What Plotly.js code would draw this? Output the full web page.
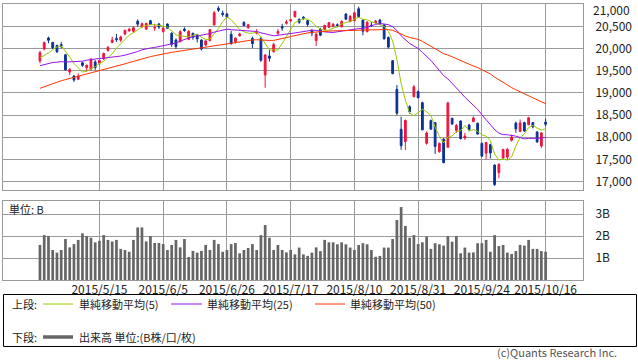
<!DOCTYPE html>
<html><head><meta charset="utf-8">
<script src="https://cdn.plot.ly/plotly-3.0.1.min.js"></script>
<style>html,body{margin:0;padding:0;background:#fff}#chart{width:638px;height:362px}</style>
</head><body><div id="chart"></div>
<script>
const dates = ["2015/4/21","2015/4/22","2015/4/23","2015/4/24","2015/4/27","2015/4/28","2015/4/30",
"2015/5/1","2015/5/7","2015/5/8","2015/5/11","2015/5/12","2015/5/13","2015/5/14","2015/5/15","2015/5/18","2015/5/19","2015/5/20","2015/5/21","2015/5/22","2015/5/25","2015/5/26","2015/5/27","2015/5/28","2015/5/29",
"2015/6/1","2015/6/2","2015/6/3","2015/6/4","2015/6/5","2015/6/8","2015/6/9","2015/6/10","2015/6/11","2015/6/12","2015/6/15","2015/6/16","2015/6/17","2015/6/18","2015/6/19","2015/6/22","2015/6/23","2015/6/24","2015/6/25","2015/6/26","2015/6/29","2015/6/30",
"2015/7/1","2015/7/2","2015/7/3","2015/7/6","2015/7/7","2015/7/8","2015/7/9","2015/7/10","2015/7/13","2015/7/14","2015/7/15","2015/7/16","2015/7/17","2015/7/21","2015/7/22","2015/7/23","2015/7/24","2015/7/27","2015/7/28","2015/7/29","2015/7/30","2015/7/31",
"2015/8/3","2015/8/4","2015/8/5","2015/8/6","2015/8/7","2015/8/10","2015/8/11","2015/8/12","2015/8/13","2015/8/14","2015/8/17","2015/8/18","2015/8/19","2015/8/20","2015/8/21","2015/8/24","2015/8/25","2015/8/26","2015/8/27","2015/8/28","2015/8/31",
"2015/9/1","2015/9/2","2015/9/3","2015/9/4","2015/9/7","2015/9/8","2015/9/9","2015/9/10","2015/9/11","2015/9/14","2015/9/15","2015/9/16","2015/9/17","2015/9/18","2015/9/24","2015/9/25","2015/9/28","2015/9/29","2015/9/30",
"2015/10/1","2015/10/2","2015/10/5","2015/10/6","2015/10/7","2015/10/8","2015/10/9","2015/10/13","2015/10/14","2015/10/15","2015/10/16"];

const tickDates = ["2015/5/15","2015/6/5","2015/6/26","2015/7/17","2015/8/10","2015/8/31","2015/9/24","2015/10/16"];

const openP = [19720,19990,20240,20140,20070,20090,19860,19470,19380,19310,
19680,19570,19540,19700,19670,19770,19960,20140,20230,20190,
20330,20400,20390,20620,20490,20440,20630,20465,20555,20385,
20555,20345,20194,20156,20440,20210,20345,20307,20194,20081,
20178,20533,20910,20800,20781,20323,20156,20290,20590,20470,
20230,20345,20232,19404,19833,19930,20345,20494,20571,20630,
20720,20661,20710,20630,20404,20180,20436,20436,20481,20510,
20540,20494,20781,20607,20630,20900,20646,20382,20530,20585,
20646,20533,20254,19727,19081,18178,17900,18689,18915,19029,
18779,17863,18374,18329,17673,17953,17773,18427,18150,18366,
17980,18276,18351,18314,17862,17640,17830,17370,17200,17530,
17550,17930,18320,18130,18330,18280,18330,18120,17800,18340];

const highP = [19950,20160,20270,20150,20090,20150,19880,19560,19400,19440,
19700,19640,19780,19740,19750,19910,20060,20270,20330,20290,
20420,20470,20500,20660,20590,20580,20650,20560,20580,20500,
20570,20370,20230,20410,20480,20420,20360,20330,20210,20200,
20440,20850,20960,20860,20800,20400,20250,20360,20620,20560,
20270,20440,20270,19870,19969,20130,20440,20560,20650,20670,
20850,20680,20730,20650,20440,20345,20470,20540,20600,20580,
20570,20640,20800,20760,20830,20947,20660,20620,20600,20650,
20670,20560,20270,19740,19178,18463,18400,18720,19180,19060,
18800,18130,18400,18340,17880,17980,18802,18440,18300,18380,
18100,18300,18470,18330,17880,17890,17850,17390,17410,17740,
17760,18060,18350,18400,18350,18460,18340,18130,18110,18420];

const lowP = [19670,19960,20120,19990,19900,20010,19500,19400,19250,19290,
19590,19480,19500,19520,19640,19740,19930,20120,20150,20150,
20300,20380,20360,20490,20470,20420,20540,20400,20440,20360,
20450,20040,19990,20140,20380,20190,20200,20140,19960,20050,
20170,20530,20830,20720,20700,20090,20110,20270,20500,20450,
20010,20320,19700,19115,19705,19910,20300,20400,20540,20600,
20700,20560,20650,20500,20280,20059,20280,20420,20470,20480,
20480,20480,20650,20600,20620,20700,20300,20370,20490,20560,
20540,20200,20000,19420,18500,17714,17712,18530,18900,18880,
18160,17830,18170,17621,17650,17410,17770,18280,18100,17950,
17940,18130,18340,18060,17560,17500,17520,16901,17070,17500,
17480,17900,18100,18120,18120,18270,18200,17880,17760,18250];

const closeP = [19909,20134,20188,20020,19930,20050,19520,19531,19292,19379,
19621,19625,19765,19570,19733,19890,20026,20197,20203,20264,
20414,20437,20473,20551,20563,20570,20543,20474,20488,20461,
20457,20096,20046,20383,20407,20388,20258,20219,19991,20174,
20428,20809,20868,20771,20706,20110,20236,20329,20523,20540,
20112,20377,19738,19856,19780,20090,20385,20463,20600,20651,
20842,20594,20684,20545,20350,20329,20303,20523,20585,20548,
20520,20614,20664,20725,20809,20721,20393,20596,20519,20620,
20554,20223,20034,19436,18541,17807,18377,18574,19136,18890,
18166,18095,18182,17792,17860,17427,18771,18299,18264,17966,
18026,18172,18432,18070,17572,17881,17645,16931,17388,17722,
17725,18005,18186,18323,18141,18439,18235,17891,18097,18292];

const ma5 = [19790,19843,19904,19977,20036,20064,19942,19810,19665,19554,
19469,19490,19536,19592,19663,19717,19797,19883,20010,20116,
20221,20303,20358,20428,20488,20519,20540,20540,20528,20507,
20485,20395,20310,20289,20278,20264,20296,20331,20253,20206,
20214,20324,20454,20610,20716,20653,20538,20430,20381,20348,
20348,20376,20258,20125,19973,19968,19970,20115,20264,20438,
20588,20630,20674,20663,20603,20500,20442,20410,20418,20458,
20496,20558,20586,20614,20666,20707,20662,20649,20608,20570,
20536,20502,20390,20173,19758,19208,18839,18547,18487,18557,
18629,18572,18494,18225,18019,17871,18006,18030,18124,18145,
18265,18145,18172,18133,18054,18025,17920,17620,17483,17513,
17482,17554,17805,17992,18076,18219,18265,18206,18161,18191];

const ma25 = [19615,19639,19667,19686,19693,19706,19697,19700,19700,19699,
19715,19739,19757,19762,19776,19786,19795,19806,19817,19832,
19852,19875,19898,19934,19971,19998,20014,20026,20044,20066,
20082,20105,20126,20169,20210,20241,20266,20284,20301,20319,
20340,20372,20399,20421,20439,20427,20419,20413,20412,20411,
20393,20386,20357,20331,20304,20289,20301,20318,20326,20336,
20354,20368,20386,20408,20415,20412,20391,20377,20370,20364,
20380,20395,20409,20417,20427,20452,20452,20487,20513,20547,
20565,20559,20542,20495,20411,20289,20201,20116,20060,20002,
19915,19827,19733,19621,19514,19390,19316,19222,19123,19010,
18902,18813,18727,18629,18507,18400,18297,18172,18091,18058,
18055,18040,18024,17992,17962,17973,17978,17967,17979,17996];

const ma50 = [19104,19140,19175,19210,19245,19275,19300,19325,19350,19375,
19400,19422,19445,19468,19492,19518,19545,19572,19600,19628,
19656,19685,19715,19745,19772,19795,19818,19840,19862,19882,
19900,19915,19930,19945,19960,19975,19990,20005,20020,20035,
20050,20065,20080,20095,20110,20125,20140,20155,20170,20191,
20195,20200,20191,20188,20185,20186,20203,20222,20248,20273,
20298,20317,20335,20355,20367,20376,20382,20388,20396,20401,
20403,20407,20411,20414,20419,20422,20419,20422,20422,20426,
20427,20430,20430,20411,20373,20322,20284,20251,20234,20209,
20163,20109,20055,19996,19939,19885,19856,19815,19770,19719,
19677,19633,19607,19571,19527,19483,19428,19357,19293,19234,
19172,19120,19070,19026,18982,18944,18902,18850,18800,18755];

const volume = [1.60,2.05,2.01,1.37,1.25,1.37,1.87,1.49,1.64,1.83,
2.13,2.01,1.93,1.72,1.79,2.05,1.83,1.76,1.83,1.42,
1.37,1.29,1.83,2.40,2.40,1.76,2.01,1.69,1.69,1.64,
1.37,1.60,1.83,1.49,1.87,1.05,1.33,1.25,1.33,1.60,
1.37,1.83,1.64,1.29,1.37,1.64,1.69,1.22,1.37,1.46,
1.64,1.37,2.05,2.51,1.93,1.37,1.60,1.37,1.26,1.37,
1.17,1.48,1.17,1.10,1.25,1.49,1.32,1.83,1.72,1.72,
1.63,1.72,1.63,1.48,1.37,1.60,1.68,1.63,1.37,1.06,
1.10,1.48,1.48,1.87,2.74,3.33,2.47,1.93,2.05,1.64,
1.72,1.98,1.42,1.68,1.63,1.57,2.01,1.75,2.01,1.22,
1.48,1.25,1.26,1.68,1.68,1.83,1.29,2.05,1.55,1.60,
1.25,1.19,1.32,1.60,1.57,1.83,1.42,1.42,1.32,1.29];

const priceTicks = [17000,17500,18000,18500,19000,19500,20000,20500,21000];
const priceTickText = ["17,000","17,500","18,000","18,500","19,000","19,500","20,000","20,500","21,000"];
const volTicks = [1,2,3];
const volTickText = ["1B","2B","3B"];
const legendItems = ["単純移動平均(5)","単純移動平均(25)","単純移動平均(50)"];
const volLegend = "出来高 単位:(B株/口/枚)";

const W = 638, H = 362;
const px = x => x / W;
const py = y => 1 - y / H;

const RED = "#f0143c", BLUE = "#0a3296";
const C5 = "#99cc00", C25 = "#9911ee", C50 = "#ff3300";
const GRID = "#9a9a9a";
const FONT = "Noto Sans CJK JP";

const traces = [
  {type:"candlestick", x:dates, open:openP, high:highP, low:lowP, close:closeP,
   xaxis:"x", yaxis:"y", whiskerwidth:0,
   increasing:{line:{color:RED,width:1}, fillcolor:RED},
   decreasing:{line:{color:BLUE,width:1}, fillcolor:BLUE},
   hoverinfo:"skip", showlegend:false},
  {type:"scatter", mode:"lines", x:dates, y:ma5, xaxis:"x", yaxis:"y", line:{color:C5,width:1}, hoverinfo:"skip", showlegend:false},
  {type:"scatter", mode:"lines", x:dates, y:ma25, xaxis:"x", yaxis:"y", line:{color:C25,width:1}, hoverinfo:"skip", showlegend:false},
  {type:"scatter", mode:"lines", x:dates, y:ma50, xaxis:"x", yaxis:"y", line:{color:C50,width:1}, hoverinfo:"skip", showlegend:false},
  {type:"bar", x:dates, y:volume, xaxis:"x2", yaxis:"y2", marker:{color:"#666666", line:{width:0}}, hoverinfo:"skip", showlegend:false}
];

const xr = [-8.7, 127.8];
const axBase = {type:"category", range:xr, tickvals:tickDates, showgrid:true, gridcolor:GRID, gridwidth:1,
  showline:true, mirror:true, linecolor:GRID, linewidth:1, zeroline:false, ticks:"", automargin:false, fixedrange:true};

const annFont = {size:11, color:"#222"};
const nTop = priceTicks.length - 1;
const annotations = [
  {xref:"paper", yref:"paper", x:px(592), y:1, text:priceTickText[nTop], showarrow:false, xanchor:"left", yanchor:"top", font:{size:12,color:"#222"}, borderpad:0},
  {xref:"paper", yref:"paper", x:px(8), y:py(209), text:"単位: B", showarrow:false, xanchor:"left", yanchor:"middle", font:annFont, borderpad:0},
  {xref:"paper", yref:"paper", x:px(11), y:py(304), text:"上段:", showarrow:false, xanchor:"left", yanchor:"middle", font:annFont, borderpad:0},
  {xref:"paper", yref:"paper", x:px(78), y:py(304), text:legendItems[0], showarrow:false, xanchor:"left", yanchor:"middle", font:annFont, borderpad:0},
  {xref:"paper", yref:"paper", x:px(206), y:py(304), text:legendItems[1], showarrow:false, xanchor:"left", yanchor:"middle", font:annFont, borderpad:0},
  {xref:"paper", yref:"paper", x:px(349), y:py(304), text:legendItems[2], showarrow:false, xanchor:"left", yanchor:"middle", font:annFont, borderpad:0},
  {xref:"paper", yref:"paper", x:px(11), y:py(337), text:"下段:", showarrow:false, xanchor:"left", yanchor:"middle", font:annFont, borderpad:0},
  {xref:"paper", yref:"paper", x:px(78), y:py(337), text:volLegend, showarrow:false, xanchor:"left", yanchor:"middle", font:annFont, borderpad:0},
  {xref:"paper", yref:"paper", x:px(618), y:py(361), text:"(c)Quants Research Inc.", showarrow:false, xanchor:"right", yanchor:"bottom", font:{size:11,color:"#555"}, borderpad:0}
];
const shapes = [
  {type:"rect", xref:"paper", yref:"paper", x0:px(3.5), x1:px(636.5), y0:py(346.5), y1:py(294.5), line:{color:"#000",width:1}, fillcolor:"rgba(0,0,0,0)"},
  {type:"line", xref:"paper", yref:"paper", x0:px(43), x1:px(73), y0:py(304), y1:py(304), line:{color:C5,width:1}},
  {type:"line", xref:"paper", yref:"paper", x0:px(171), x1:px(202), y0:py(304), y1:py(304), line:{color:C25,width:1}},
  {type:"line", xref:"paper", yref:"paper", x0:px(315), x1:px(345), y0:py(304), y1:py(304), line:{color:C50,width:1}},
  {type:"line", xref:"paper", yref:"paper", x0:px(43), x1:px(73), y0:py(337), y1:py(337), line:{color:"#666",width:3.5}}
];

const layout = {
  width:W, height:H, margin:{l:0,r:0,t:0,b:0}, paper_bgcolor:"#fff", plot_bgcolor:"#fff",
  font:{family:FONT, size:12, color:"#222"}, showlegend:false, bargap:0.36, boxgap:0.4,
  xaxis: Object.assign({}, axBase, {domain:[px(3),px(583)], anchor:"y", showticklabels:false, rangeslider:{visible:false}}),
  xaxis2: Object.assign({}, axBase, {domain:[px(3),px(583)], anchor:"y2", showticklabels:true, tickfont:{size:12,color:"#222"}, ticklabelstandoff:-1}),
  yaxis: {domain:[py(190),py(4)], range:[16808,21007], tickvals:priceTicks.slice(0, nTop), ticktext:priceTickText.slice(0, nTop), side:"right",
    showgrid:true, gridcolor:GRID, gridwidth:1, showline:true, mirror:true, linecolor:GRID, linewidth:1, zeroline:false,
    ticks:"", ticklabelstandoff:9, automargin:false, fixedrange:true, tickfont:{size:12,color:"#222"}},
  yaxis2: {domain:[py(280),py(201)], range:[0,3.607], tickvals:volTicks, ticktext:volTickText, side:"right",
    showgrid:true, gridcolor:GRID, gridwidth:1, showline:true, mirror:true, linecolor:GRID, linewidth:1, zeroline:false,
    ticks:"", ticklabelstandoff:9, automargin:false, fixedrange:true, tickfont:{size:12,color:"#222"}},
  annotations, shapes
};

Plotly.newPlot("chart", traces, layout, {displayModeBar:false, staticPlot:true});
</script></body></html>
